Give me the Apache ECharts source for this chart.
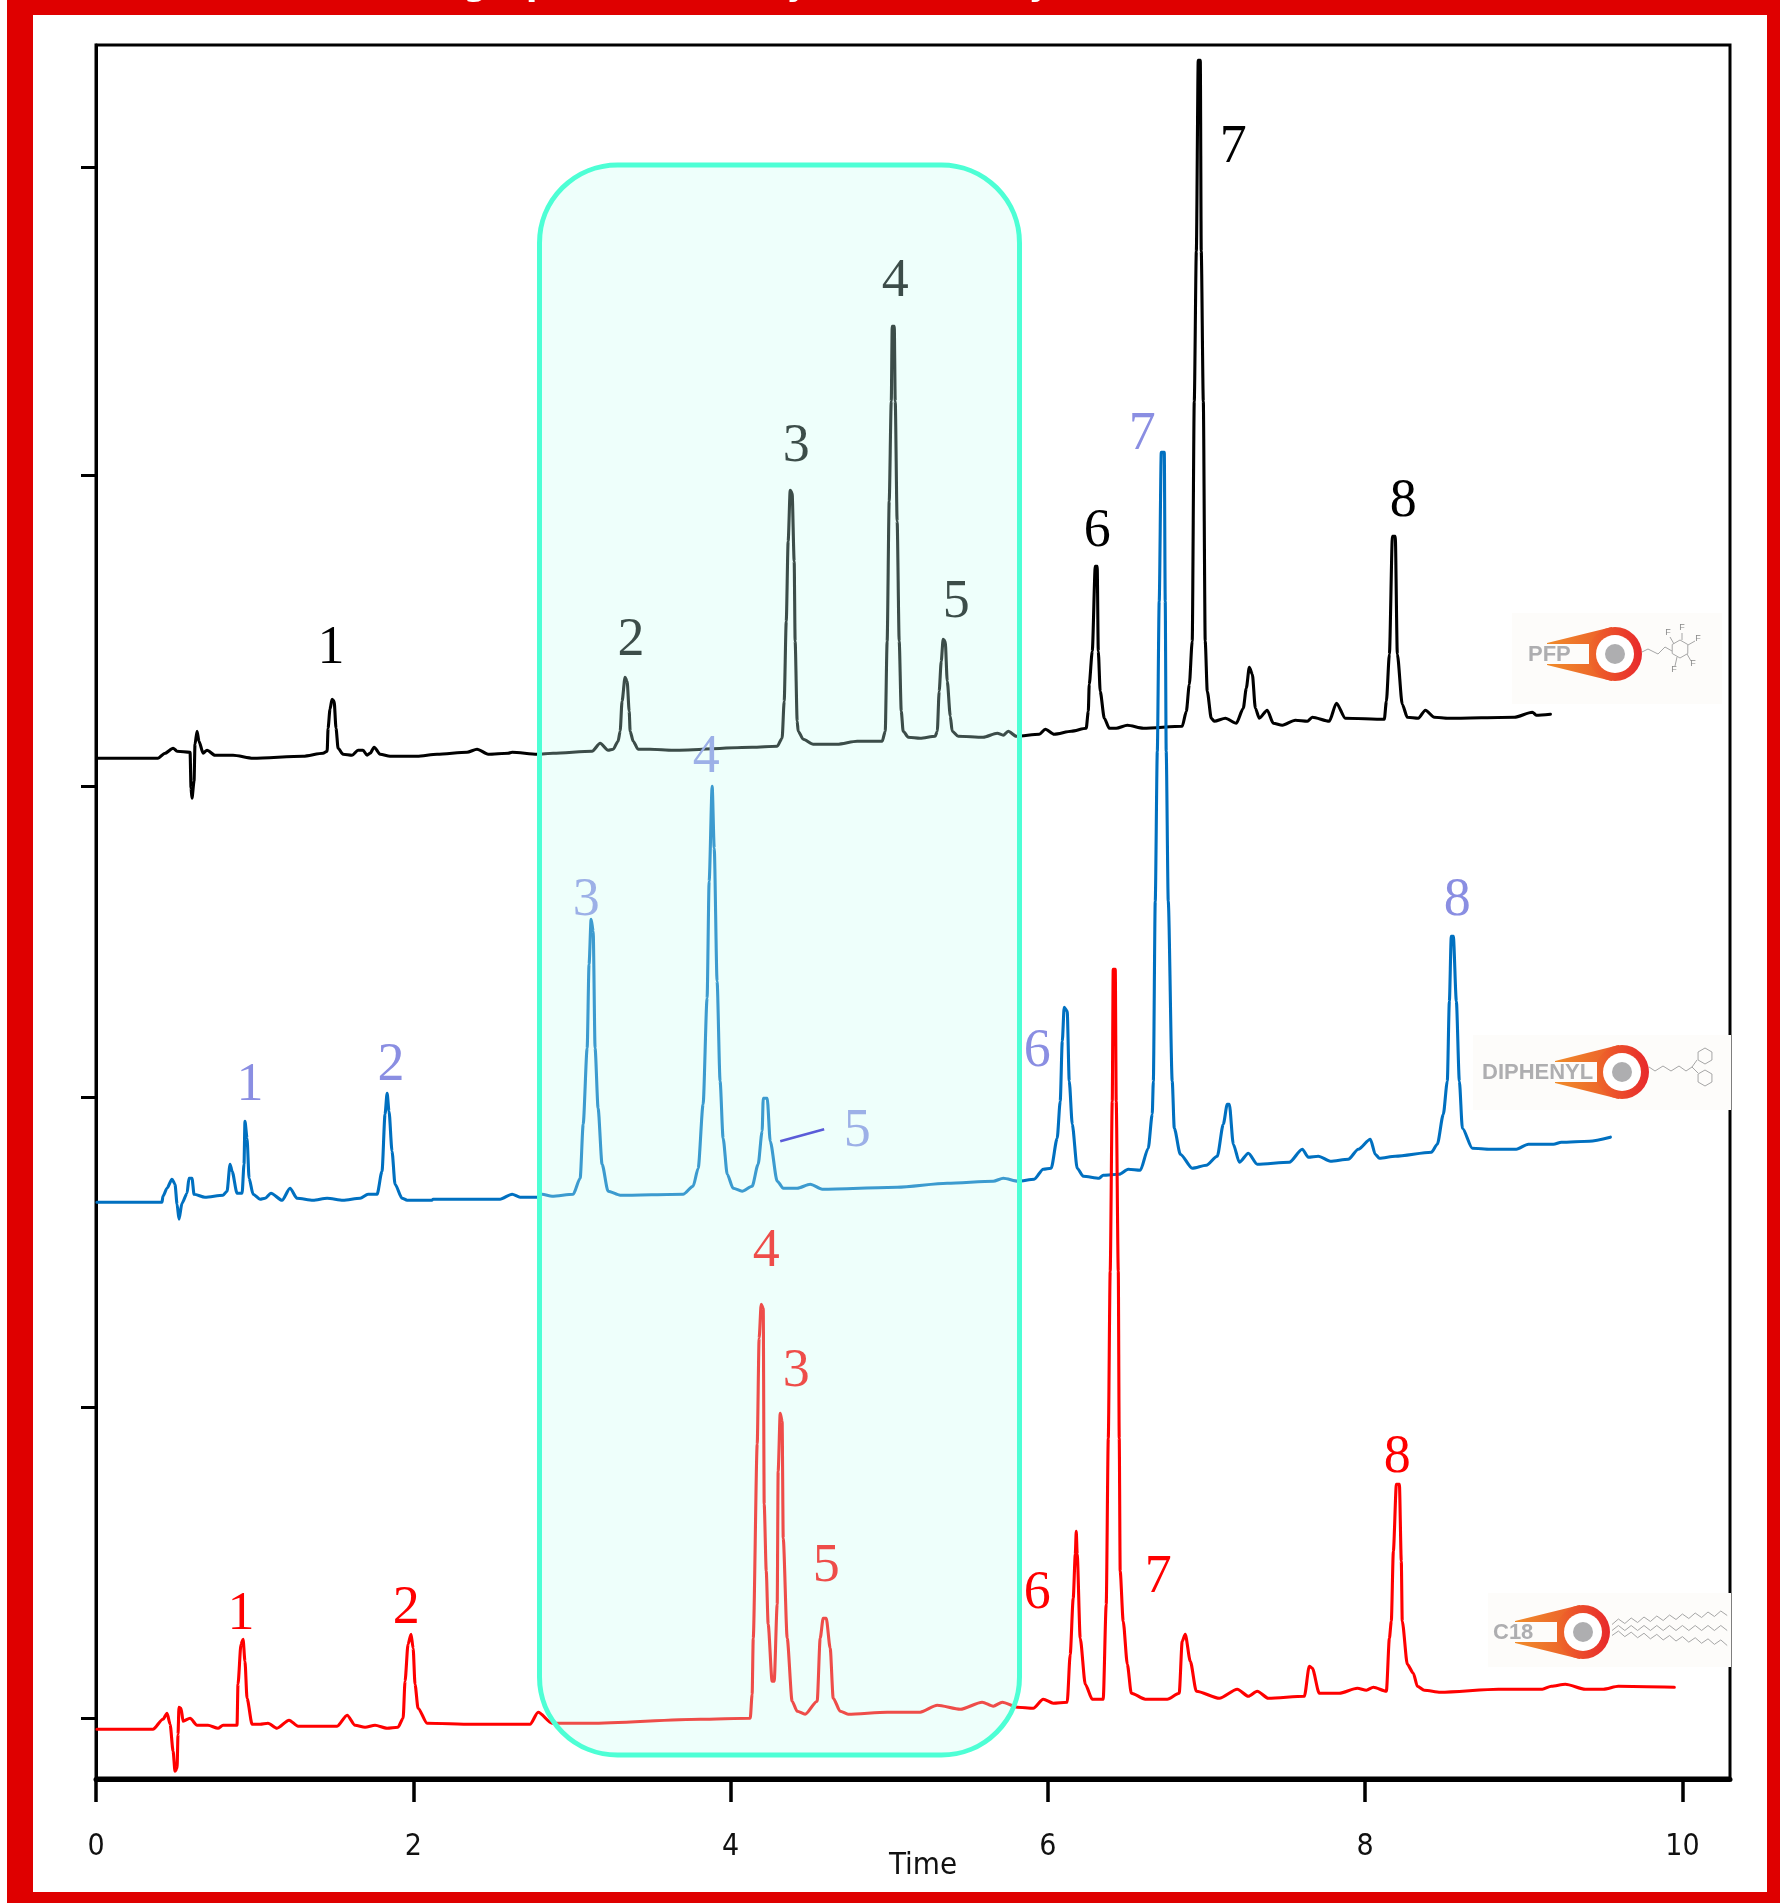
<!DOCTYPE html>
<html>
<head>
<meta charset="utf-8">
<style>html,body{margin:0;padding:0;background:#fff}#c{width:1780px;height:1903px}</style>
<script src="https://cdn.jsdelivr.net/npm/echarts@6/dist/echarts.min.js"></script>
</head>
<body>
<div id="c"></div>
<script>
const xTicks = [0, 2, 4, 6, 8, 10];
const yTicks = [61, 372, 682, 993, 1304, 1612];
const pfpTrace = [[.006,1021],[.391,1021],[.435,1026],[.486,1031],[.511,1028],[.593,1027],[.599,991],[.605,981],[.618,998],[.624,1035],[.637,1048],[.649,1038],[.675,1026],[.700,1029],[.750,1024],[.864,1024],[.990,1021],[1.305,1023],[1.431,1026],[1.457,1028],[1.463,1051],[1.475,1070],[1.488,1080],[1.501,1078],[1.513,1051],[1.526,1031],[1.557,1025],[1.614,1024],[1.652,1029],[1.683,1029],[1.709,1024],[1.728,1026],[1.753,1032],[1.791,1025],[1.854,1023],[2.024,1023],[2.150,1025],[2.339,1027],[2.402,1030],[2.472,1025],[2.598,1026],[2.623,1027],[2.781,1025],[2.881,1026],[3.127,1028],[3.178,1036],[3.228,1029],[3.260,1030],[3.291,1038],[3.304,1048],[3.316,1078],[3.335,1102],[3.348,1098],[3.361,1068],[3.367,1048],[3.386,1038],[3.417,1030],[3.493,1030],[3.638,1029],[4.136,1032],[4.294,1033],[4.325,1041],[4.338,1078],[4.351,1158],[4.363,1238],[4.376,1289],[4.388,1286],[4.401,1218],[4.407,1138],[4.420,1058],[4.426,1048],[4.458,1040],[4.521,1035],[4.672,1035],[4.798,1038],[4.956,1038],[4.975,1048],[4.987,1138],[5.000,1278],[5.013,1378],[5.019,1453],[5.032,1453],[5.038,1378],[5.050,1258],[5.063,1138],[5.076,1068],[5.088,1048],[5.120,1042],[5.195,1041],[5.290,1043],[5.303,1048],[5.315,1088],[5.328,1118],[5.340,1140],[5.353,1138],[5.366,1098],[5.385,1063],[5.397,1048],[5.435,1043],[5.592,1042],[5.681,1046],[5.719,1044],[5.750,1048],[5.801,1043],[5.946,1045],[5.984,1050],[6.040,1045],[6.148,1048],[6.242,1051],[6.255,1068],[6.261,1095],[6.280,1128],[6.299,1213],[6.311,1213],[6.318,1128],[6.330,1088],[6.356,1061],[6.387,1051],[6.431,1051],[6.501,1054],[6.602,1051],[6.847,1053],[6.873,1068],[6.892,1095],[6.910,1138],[6.923,1378],[6.936,1528],[6.948,1719],[6.961,1719],[6.967,1528],[6.980,1378],[6.992,1138],[7.005,1088],[7.030,1061],[7.049,1058],[7.119,1061],[7.188,1056],[7.232,1071],[7.251,1091],[7.270,1112],[7.289,1105],[7.308,1071],[7.333,1061],[7.383,1069],[7.421,1056],[7.478,1054],[7.560,1059],[7.636,1058],[7.667,1062],[7.774,1058],[7.819,1076],[7.875,1061],[8.121,1060],[8.134,1078],[8.153,1125],[8.172,1243],[8.190,1243],[8.203,1125],[8.234,1075],[8.266,1062],[8.335,1061],[8.380,1069],[8.436,1062],[8.525,1061],[8.941,1062],[9.054,1067],[9.079,1064],[9.168,1065]];
const diphenylTrace = [[.006,577],[.416,577],[.422,583],[.448,591],[.479,600],[.498,595],[.511,575],[.523,560],[.542,576],[.574,586],[.586,601],[.605,601],[.618,585],[.687,582],[.801,584],[.826,588],[.845,615],[.858,608],[.889,586],[.921,586],[.933,615],[.939,658],[.952,641],[.965,601],[.990,585],[1.034,580],[1.066,581],[1.103,586],[1.173,579],[1.223,591],[1.267,581],[1.368,579],[1.457,581],[1.557,579],[1.665,581],[1.715,585],[1.772,585],[1.803,608],[1.822,665],[1.835,686],[1.847,668],[1.866,628],[1.885,595],[1.929,581],[1.961,579],[2.119,579],[2.125,580],[2.547,580],[2.623,585],[2.673,582],[2.781,582],[2.812,585],[2.875,583],[3.008,585],[3.052,601],[3.071,655],[3.096,731],[3.108,815],[3.121,860],[3.134,848],[3.146,731],[3.165,671],[3.190,615],[3.228,588],[3.304,584],[3.701,585],[3.764,593],[3.796,611],[3.827,675],[3.852,781],[3.865,898],[3.884,993],[3.897,931],[3.915,798],[3.934,698],[3.953,641],[3.979,605],[4.016,591],[4.073,588],[4.136,593],[4.174,615],[4.199,648],[4.206,681],[4.231,681],[4.250,638],[4.294,598],[4.332,591],[4.420,591],[4.502,595],[4.578,590],[5.050,592],[5.366,596],[5.656,598],[5.719,601],[5.813,598],[5.914,600],[5.971,610],[6.021,611],[6.059,641],[6.078,678],[6.091,738],[6.103,772],[6.122,768],[6.135,698],[6.154,655],[6.185,611],[6.223,603],[6.324,601],[6.349,604],[6.450,605],[6.507,610],[6.583,609],[6.633,631],[6.658,665],[6.665,698],[6.677,878],[6.690,1028],[6.702,1178],[6.715,1327],[6.734,1327],[6.740,1178],[6.746,1028],[6.759,878],[6.784,698],[6.797,651],[6.835,625],[6.910,611],[6.999,614],[7.068,623],[7.106,655],[7.131,675],[7.144,675],[7.169,635],[7.207,617],[7.264,626],[7.320,615],[7.522,617],[7.604,630],[7.642,622],[7.705,623],[7.781,618],[7.894,620],[7.957,630],[8.033,640],[8.064,625],[8.090,621],[8.190,623],[8.418,627],[8.455,635],[8.493,665],[8.518,698],[8.531,778],[8.543,843],[8.556,843],[8.575,778],[8.594,698],[8.613,651],[8.676,631],[8.789,630],[8.953,630],[9.029,635],[9.187,635],[9.237,637],[9.413,638],[9.546,642]];
const c18Trace = [[.006,50],[.359,50],[.422,60],[.448,66],[.467,55],[.486,28],[.498,8],[.511,11],[.517,45],[.523,72],[.536,71],[.549,58],[.593,61],[.637,54],[.706,54],[.769,51],[.801,54],[.889,54],[.895,95],[.914,135],[.927,140],[.939,118],[.952,81],[.984,55],[1.034,55],[1.084,56],[1.141,51],[1.217,59],[1.274,53],[1.520,53],[1.583,64],[1.633,54],[1.696,52],[1.759,54],[1.835,51],[1.904,52],[1.936,61],[1.948,98],[1.967,135],[1.986,145],[1.999,131],[2.011,95],[2.030,71],[2.087,56],[2.371,55],[2.484,55],[2.736,55],[2.787,67],[2.875,56],[3.115,56],[3.808,60],[4.124,61],[4.136,85],[4.143,141],[4.168,335],[4.180,441],[4.193,475],[4.206,471],[4.212,275],[4.225,208],[4.237,155],[4.262,98],[4.275,98],[4.294,175],[4.300,308],[4.313,366],[4.325,358],[4.332,241],[4.357,141],[4.388,78],[4.420,68],[4.470,65],[4.546,78],[4.565,141],[4.584,161],[4.603,161],[4.628,131],[4.647,81],[4.691,68],[4.741,65],[4.987,67],[5.195,67],[5.303,74],[5.448,70],[5.586,77],[5.656,73],[5.713,77],[5.807,72],[5.908,71],[5.971,80],[6.034,76],[6.122,77],[6.141,125],[6.160,181],[6.173,225],[6.179,248],[6.185,225],[6.204,141],[6.236,95],[6.280,80],[6.349,80],[6.368,175],[6.381,341],[6.393,508],[6.406,678],[6.412,810],[6.425,810],[6.431,678],[6.444,508],[6.450,341],[6.456,208],[6.475,158],[6.501,115],[6.526,86],[6.614,80],[6.753,80],[6.828,86],[6.847,138],[6.866,145],[6.898,118],[6.936,88],[7.081,81],[7.194,90],[7.264,83],[7.320,88],[7.390,81],[7.617,83],[7.648,113],[7.667,111],[7.711,86],[7.837,86],[7.951,91],[8.008,89],[8.052,92],[8.134,88],[8.153,141],[8.165,158],[8.178,228],[8.197,295],[8.216,295],[8.228,218],[8.234,158],[8.266,115],[8.304,106],[8.329,93],[8.373,89],[8.474,87],[8.840,90],[9.117,90],[9.174,93],[9.262,95],[9.388,90],[9.502,90],[9.596,93],[9.949,92]];
const pfpLabels = [[1.482,1131,'1'],[3.373,1139,'2'],[4.414,1333,'3'],[5.038,1498,'4'],[5.422,1177,'5'],[6.311,1248,'6'],[7.169,1632,'7'],[8.241,1278,'8']];
const diphenylLabels = [[.971,694,'1'],[1.860,714,'2'],[3.090,879,'3'],[3.846,1022,'4'],[4.798,648,'5'],[5.933,728,'6'],[6.595,1345,'7'],[8.581,879,'8']];
const c18Labels = [[.914,165,'1'],[1.955,171,'2'],[4.414,408,'3'],[4.225,528,'4'],[4.603,213,'5'],[5.933,186,'6'],[6.696,202,'7'],[8.203,322,'8']];
const leaderLine = [[4.313,638],[4.590,650]];

const RED = '#df0000';
const chart = echarts.init(document.getElementById('c'), null, {renderer: 'canvas'});

function trace(name, data, color) {
  return {name, type: 'line', data, showSymbol: false, symbol: 'none', smooth: 0.25, smoothMonotone: 'x', silent: true,
    lineStyle: {color, width: 3.1, join: 'round', cap: 'round'}, z: 3, animation: false};
}
function labels(name, data, color) {
  return {name, type: 'scatter', data, symbolSize: 1, itemStyle: {color: 'rgba(0,0,0,0)'}, silent: true, z: 4, animation: false,
    label: {show: true, position: 'inside', offset: [0, 1], formatter: p => p.value[2], color, opacity: 1,
      fontFamily: '"Liberation Serif"', fontSize: 54, lineHeight: 54}};
}

const GREY = '#aeaeb0';
const ORANGE = '#f08c2a';
const CRIMSON = '#e8282c';

function comet(cx, cy, tipX, slotRight, text, textX, boxL, boxR, boxT, boxB) {
  const r = 27, z = 101;
  const grad = {type: 'linear', x: 0, y: 0, x2: 1, y2: 0, colorStops: [{offset: 0, color: ORANGE}, {offset: 1, color: '#ec5a2b'}]};
  const ringGrad = {type: 'linear', x: 0, y: 0, x2: 1, y2: 0, colorStops: [{offset: 0, color: '#ee6a2a'}, {offset: 1, color: CRIMSON}]};
  return [
    {type: 'rect', z, shape: {x: boxL, y: boxT, width: boxR - boxL, height: boxB - boxT}, style: {fill: '#fdfcfa'}},
    {type: 'polygon', z: z + 1, shape: {points: [[tipX, cy - 11], [cx - 3, cy - r], [cx - 3, cy + r], [tipX, cy + 11]]}, style: {fill: grad}},
    {type: 'circle', z: z + 2, shape: {cx, cy, r}, style: {fill: ringGrad}},
    {type: 'rect', z: z + 3, shape: {x: tipX - 2, y: cy - 10, width: slotRight - tipX + 2, height: 20}, style: {fill: '#fdfcfa'}},
    {type: 'circle', z: z + 3, shape: {cx, cy, r: 19}, style: {fill: '#fff'}},
    {type: 'circle', z: z + 4, shape: {cx, cy, r: 10}, style: {fill: GREY}},
    {type: 'text', z: z + 5, style: {x: textX, y: cy + 1, text, fill: GREY, font: 'bold 22px "Liberation Sans"', textAlign: 'left', textVerticalAlign: 'middle'}}
  ];
}
function poly(points, w) {
  return {type: 'polyline', z: 107, shape: {points}, style: {stroke: '#a6a6a6', lineWidth: w || 1, fill: null}};
}
function hex(cx, cy, r) {
  const p = [];
  for (const a of [30, 90, 150, 210, 270, 330, 390]) p.push([cx + r * Math.cos(a * Math.PI / 180), cy + r * Math.sin(a * Math.PI / 180)]);
  return poly(p);
}
function tinyF(x, y) {
  return {type: 'text', z: 107, style: {x, y, text: 'F', fill: '#8a8a8a', font: '9px "Liberation Sans"', textAlign: 'center', textVerticalAlign: 'middle'}};
}
const pfpMol = [
  poly([[1642, 652], [1648, 649], [1658, 654], [1665, 647], [1672, 651]]),
  hex(1680, 649, 9),
  poly([[1674, 644], [1670, 637]]), poly([[1682, 640], [1682, 633]]), poly([[1688, 645], [1695, 641]]),
  poly([[1687, 654], [1691, 661]]), poly([[1677, 657], [1675, 666]]),
  tinyF(1668, 633), tinyF(1682, 628), tinyF(1698, 639), tinyF(1693, 664), tinyF(1674, 670)
];
const diphMol = [
  poly([[1649, 1067], [1655, 1071], [1663, 1066], [1671, 1071], [1679, 1066], [1686, 1071], [1692, 1067], [1697, 1060]]),
  poly([[1692, 1067], [1698, 1073]]),
  hex(1705, 1056, 8), hex(1705, 1078, 8)
];
function zig(x0, y0, y1) {
  const p = []; const n = 18;
  for (let i = 0; i <= n; i++) p.push([x0 + i * 6.4, y0 + (y1 - y0) * i / n + (i % 2 ? -2.5 : 2.5)]);
  return poly(p);
}
const c18Mol = [zig(1612, 1622, 1613), zig(1612, 1628, 1628), zig(1612, 1633, 1643)];

const graphics = [
  {type: 'rect', z: 100, shape: {x: 539.5, y: 165, width: 480, height: 1590, r: 78},
    style: {fill: 'rgba(200,255,243,0.3)', stroke: '#4dffd5', lineWidth: 5}},
  ...comet(1615, 654, 1547, 1589, 'PFP', 1528, 1512, 1722, 613, 704),
  ...pfpMol,
  ...comet(1622, 1072, 1555, 1597, 'DIPHENYL', 1482, 1473, 1731, 1035, 1110),
  ...diphMol,
  ...comet(1583, 1632, 1515, 1557, 'C18', 1493, 1488, 1731, 1593, 1667),
  ...c18Mol,
  {type: 'rect', z: 120, shape: {x: 7, y: 0, width: 26, height: 1903}, style: {fill: RED}},
  {type: 'rect', z: 120, shape: {x: 1767, y: 0, width: 13, height: 1903}, style: {fill: RED}},
  {type: 'rect', z: 120, shape: {x: 7, y: 0, width: 1773, height: 15}, style: {fill: RED}},
  {type: 'rect', z: 120, shape: {x: 7, y: 1892, width: 1773, height: 11}, style: {fill: RED}},
  {type: 'text', z: 121, style: {x: 282, y: -13.5, text: 'Chromatographic selectivity in chemistry', fill: '#fff',
    font: 'bold 33px "DejaVu Sans"', textAlign: 'left', textVerticalAlign: 'middle'}}
];

chart.setOption({
  backgroundColor: '#fff',
  animation: false,
  grid: {left: 96, right: 50, top: 45, bottom: 125, show: true, borderColor: '#000', borderWidth: 3, backgroundColor: 'transparent'},
  xAxis: {
    type: 'value', min: 0, max: 10.3, splitLine: {show: false}, offset: 1,
    name: 'Time', nameLocation: 'middle', nameGap: 71, nameMoveOverlap: false,
    nameTextStyle: {color: '#111', fontFamily: '"DejaVu Sans Condensed","DejaVu Sans"', fontSize: 31, padding: [0, 0, 0, 20]},
    axisLine: {show: true, lineStyle: {color: '#000', width: 5}},
    axisTick: {show: true, length: 23, customValues: xTicks, lineStyle: {color: '#000', width: 3.5}},
    axisLabel: {show: true, margin: 53.5, customValues: xTicks, color: '#111', fontFamily: '"DejaVu Sans Condensed","DejaVu Sans"', fontSize: 30}
  },
  yAxis: {
    type: 'value', min: 1.2, max: 1734.2, splitLine: {show: false},
    axisLine: {show: true, lineStyle: {color: '#000', width: 3}},
    axisTick: {show: true, length: 15, customValues: yTicks, lineStyle: {color: '#000', width: 3}},
    axisLabel: {show: false}
  },
  series: [
    trace('PFP', pfpTrace, '#000000'),
    trace('DIPHENYL', diphenylTrace, '#0070c0'),
    trace('C18', c18Trace, '#ff0000'),
    labels('PFP peaks', pfpLabels, '#000000'),
    labels('DIPHENYL peaks', diphenylLabels, '#8a8ee2'),
    labels('C18 peaks', c18Labels, '#ff0000'),
    {name: 'peak 5 leader', type: 'line', data: leaderLine, showSymbol: false, symbol: 'none', silent: true,
      lineStyle: {color: '#2c16cd', width: 2.5}, z: 3}
  ],
  graphic: {elements: graphics}
});
</script>
</body>
</html>
